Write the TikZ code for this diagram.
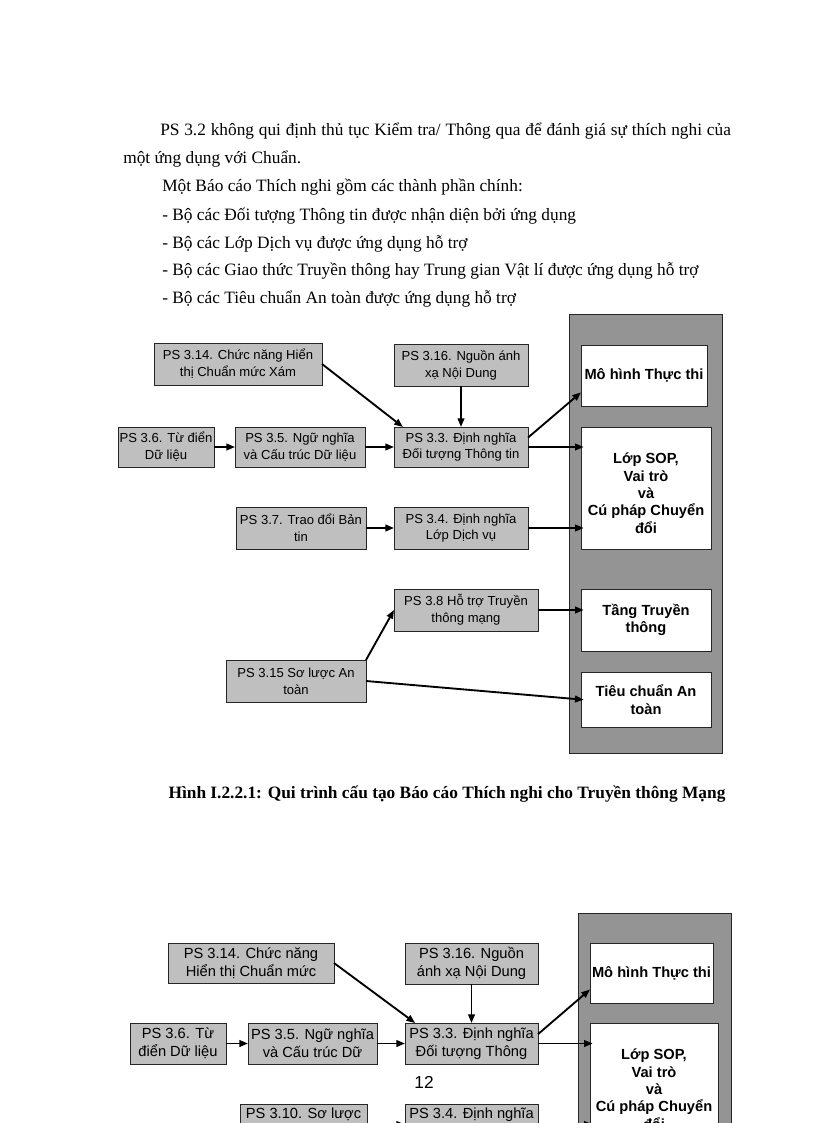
\documentclass[tikz,border=0pt]{standalone}
\usepackage{fontspec}
\setmainfont{Liberation Serif}
\newfontfamily\arialfont{Liberation Sans}
\usetikzlibrary{
    arrows.meta,
    calc
}

\tikzset{
    sz/.style 2 args={minimum width=#1*0.75pt, minimum height=#2*0.75pt},
    psbox/.style={draw=black!85, fill=black!25, inner sep=0pt, outer sep=0pt,
        align=center, font=\arialfont\fontsize{9.8}{12.5}\selectfont},
    psboxb/.style={psbox, font=\arialfont\fontsize{11}{13.5}\selectfont},
    partbox/.style={draw=black!85, fill=white, inner sep=0pt, outer sep=0pt,
        align=center, font=\arialfont\bfseries\fontsize{11}{13}\selectfont},
    frame/.style={draw=black!85, fill=black!42, inner sep=0pt, outer sep=0pt},
    arr/.style={-{Triangle[length=6.5pt,width=5pt]}, line width=1.4pt},
    body/.style={anchor=base west, inner sep=0pt, font=\fontsize{13}{16}\selectfont}
}
\newcommand{\toppad}{\rule{0pt}{16pt}}

\begin{document}
\begin{tikzpicture}[x=0.75pt,y=-0.75pt]
    \useasboundingbox (0,0) rectangle (816,1123);
    \clip (0,0) rectangle (816,1123);
    \fill[white] (0,0) rectangle (816,1123);

    % text of the page
    \node[body] (par1) at (160,136) {\makebox[428pt][s]{PS 3.2 không qui định thủ tục Kiểm tra/ Thông qua để đánh giá sự thích nghi của}};
    \node[body] (par2) at (123,164) {một ứng dụng với Chuẩn.};
    \node[body] (par3) at (162,192) {Một Báo cáo Thích nghi gồm các thành phần chính:};
    \node[body] (item1) at (162,220) {- Bộ các Đối tượng Thông tin được nhận diện bởi ứng dụng};
    \node[body] (item2) at (162,248) {- Bộ các Lớp Dịch vụ được ứng dụng hỗ trợ};
    \node[body] (item3) at (162,275) {- Bộ các Giao thức Truyền thông hay Trung gian Vật lí được ứng dụng hỗ trợ};
    \node[body] (item4) at (162,303) {- Bộ các Tiêu chuẩn An toàn được ứng dụng hỗ trợ};

    % first figure
    \node[frame, sz={153}{439}] (frame1) at (645.5,533.5) {};
    \node[partbox, sz={126}{61}] (mh) at (644,375.5) {Mô hình Thực thi};
    \node[partbox, sz={130}{122}] (lop) at (646,488) {\toppad Lớp SOP,\\Vai trò\\và\\Cú pháp Chuyển\\đổi};
    \node[partbox, sz={130}{62}] (tang) at (646,620) {Tầng Truyền\\thông};
    \node[partbox, sz={130}{55}] (tieu) at (646,699.5) {Tiêu chuẩn An\\toàn};

    \node[psbox, sz={168}{42}] (s14) at (238,364) {PS 3.14. Chức năng Hiển\\thị Chuẩn mức Xám};
    \node[psbox, sz={134}{42}] (s16) at (461,365) {PS 3.16. Nguồn ánh\\xạ Nội Dung};
    \node[psbox, sz={96}{40}] (s6) at (166,447) {PS 3.6. Từ điển\\Dữ liệu};
    \node[psbox, sz={130}{40}] (s5) at (300,447) {PS 3.5. Ngữ nghĩa\\và Cấu trúc Dữ liệu};
    \node[psbox, sz={134}{40}] (s3) at (461,447) {PS 3.3. Định nghĩa\\Đối tượng Thông tin};
    \node[psbox, sz={130}{42}] (s7) at (301,528) {PS 3.7. Trao đổi Bản\\tin};
    \node[psbox, sz={134}{42}] (s4) at (461,528) {PS 3.4. Định nghĩa\\Lớp Dịch vụ};
    \node[psbox, sz={144}{42}] (s8) at (466,610) {PS 3.8 Hỗ trợ Truyền\\thông mạng};
    \node[psbox, sz={140}{42}] (s15) at (296,681) {PS 3.15 Sơ lược An\\toàn};

    \draw[arr] (s14.east) -- (s3.161);
    \draw[arr] (s16.south) -- (s3.north);
    \draw[arr] (s6.east) -- (s5.west);
    \draw[arr] (s5.east) -- (s3.west);
    \draw[arr] (s7.east) -- (s4.west);
    \draw[arr] (s3.8) -- (mh.195);
    \draw[arr, shorten >=-2pt] (s3.east) -- (s3.east -| lop.west);
    \draw[arr, shorten >=-2pt] (s4.east) -- (s4.east -| lop.west);
    \draw[arr, shorten >=-2pt] (s8.east) -- (s8.east -| tang.west);
    \draw[arr] (s15.north east) -- (s8.west);
    \draw[arr, shorten >=-2pt] (s15.east) -- (tieu.west);

    \node[anchor=base, font=\bfseries\fontsize{13}{16}\selectfont] (caption) at (447,798)
        {Hình I.2.2.1: Qui trình cấu tạo Báo cáo Thích nghi cho Truyền thông Mạng};

    % second figure, cut by the page end
    \node[frame, sz={153}{440}] (frame2) at (654.5,1133) {};
    \node[partbox, sz={123}{60}] (bmh) at (651.5,973) {Mô hình Thực thi};
    \node[partbox, sz={128}{122}] (blop) at (654,1084) {\toppad Lớp SOP,\\Vai trò\\và\\Cú pháp Chuyển\\đổi};

    \node[psboxb, sz={166}{40}] (b14) at (251,963) {PS 3.14. Chức năng\\Hiển thị Chuẩn mức};
    \node[psboxb, sz={133}{41}] (b16) at (471.5,963.5) {PS 3.16. Nguồn\\ánh xạ Nội Dung};
    \node[psboxb, sz={96}{41}] (b6) at (178,1043.5) {PS 3.6. Từ\\điển Dữ liệu};
    \node[psboxb, sz={129}{41}] (b5) at (312.5,1043.5) {PS 3.5. Ngữ nghĩa\\và Cấu trúc Dữ};
    \node[psboxb, sz={133}{41}] (b3) at (471.5,1043.5) {PS 3.3. Định nghĩa\\Đối tượng Thông};
    \node[psboxb, sz={127}{41}] (b10) at (303.5,1124.5) {PS 3.10. Sơ lược\\\strut};
    \node[psboxb, sz={133}{41}] (b4) at (471.5,1124.5) {PS 3.4. Định nghĩa\\\strut};

    \draw[arr] (b14.east) -- (b3.160);
    \draw[arr] (b16.south) -- (b3.north);
    \draw[arr] (b6.east) -- (b5.west);
    \draw[arr] (b5.east) -- (b3.west);
    \draw[arr] (b10.east) -- (b4.west);
    \draw[arr] (b3.8) -- (bmh.195);
    \draw[arr, shorten >=-2pt] (b3.east) -- (b3.east -| blop.west);
    \draw[arr, shorten >=-2pt] (b4.east) -- (b4.east -| blop.west);

    \node[font=\arialfont\fontsize{13}{15}\selectfont] (pagenum) at (424,1082) {12};
\end{tikzpicture}
\end{document}
